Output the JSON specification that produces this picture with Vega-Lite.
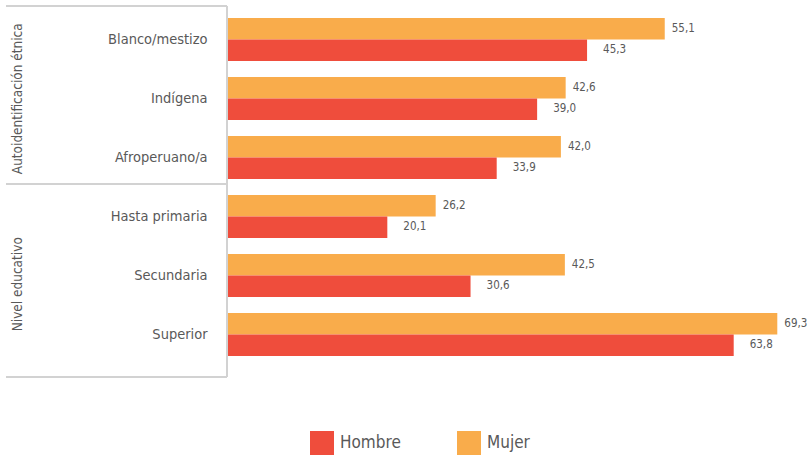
{
  "$schema": "https://vega.github.io/schema/vega-lite/v6.json",
  "padding": {"top": 5, "left": 5, "right": 0, "bottom": 0},
  "background": "white",
  "config": {
    "view": {"stroke": null},
    "font": "DejaVu Sans Condensed, Roboto Condensed, Roboto, sans-serif",
    "locale": {"number": {"decimal": ",", "thousands": ".", "grouping": [3], "currency": ["", " €"]}}
  },
  "data": {
    "values": [
      {"grupo": "Autoidentificación étnica", "categoria": "Blanco/mestizo", "sexo": "Mujer", "valor": 55.1},
      {"grupo": "Autoidentificación étnica", "categoria": "Blanco/mestizo", "sexo": "Hombre", "valor": 45.3},
      {"grupo": "Autoidentificación étnica", "categoria": "Indígena", "sexo": "Mujer", "valor": 42.6},
      {"grupo": "Autoidentificación étnica", "categoria": "Indígena", "sexo": "Hombre", "valor": 39.0},
      {"grupo": "Autoidentificación étnica", "categoria": "Afroperuano/a", "sexo": "Mujer", "valor": 42.0},
      {"grupo": "Autoidentificación étnica", "categoria": "Afroperuano/a", "sexo": "Hombre", "valor": 33.9},
      {"grupo": "Nivel educativo", "categoria": "Hasta primaria", "sexo": "Mujer", "valor": 26.2},
      {"grupo": "Nivel educativo", "categoria": "Hasta primaria", "sexo": "Hombre", "valor": 20.1},
      {"grupo": "Nivel educativo", "categoria": "Secundaria", "sexo": "Mujer", "valor": 42.5},
      {"grupo": "Nivel educativo", "categoria": "Secundaria", "sexo": "Hombre", "valor": 30.6},
      {"grupo": "Nivel educativo", "categoria": "Superior", "sexo": "Mujer", "valor": 69.3},
      {"grupo": "Nivel educativo", "categoria": "Superior", "sexo": "Hombre", "valor": 63.8}
    ]
  },
  "spacing": 0,
  "hconcat": [
    {
      "width": 221,
      "height": 371,
      "resolve": {"scale": {"y": "independent"}},
      "layer": [
        {
          "transform": [{"filter": "datum.sexo === 'Mujer'"}],
          "encoding": {
            "y": {"field": "categoria", "type": "nominal", "sort": ["Blanco/mestizo", "Indígena", "Afroperuano/a", "Hasta primaria", "Secundaria", "Superior"], "scale": {"paddingInner": 0.2712, "paddingOuter": 0.2796, "align": 0.364}, "axis": null}
          },
          "layer": [
            {
              "mark": {"type": "text", "align": "right", "baseline": "middle", "fontSize": 14.5, "color": "#595959"},
              "encoding": {
                "x": {"datum": 0.912, "type": "quantitative", "scale": {"domain": [0, 1]}, "axis": null},
                "text": {"field": "categoria"}
              }
            },
            {
              "transform": [{"filter": "datum.categoria === 'Hasta primaria'"}],
              "mark": {"type": "rule", "color": "#d2d2d2", "strokeWidth": 2},
              "encoding": {
                "y": {"field": "categoria", "type": "nominal", "bandPosition": -0.256, "sort": ["Blanco/mestizo", "Indígena", "Afroperuano/a", "Hasta primaria", "Secundaria", "Superior"], "axis": null}
              }
            }
          ]
        },
        {
          "transform": [{"aggregate": [{"op": "count", "as": "n"}], "groupby": ["grupo"]}],
          "layer": [
            {
              "transform": [{"filter": "datum.grupo === 'Autoidentificación étnica'"}],
              "mark": {"type": "rule", "color": "#d2d2d2", "strokeWidth": 2},
              "encoding": {
                "y": {"field": "grupo", "type": "nominal", "bandPosition": 0, "sort": ["Autoidentificación étnica", "Nivel educativo"], "scale": {"domain": ["Autoidentificación étnica", "Nivel educativo"], "paddingInner": 0, "paddingOuter": 0}, "axis": null}
              }
            },
            {
              "transform": [{"filter": "datum.grupo === 'Nivel educativo'"}],
              "mark": {"type": "rule", "color": "#d2d2d2", "strokeWidth": 2},
              "encoding": {
                "y": {"field": "grupo", "type": "nominal", "bandPosition": 1, "sort": ["Autoidentificación étnica", "Nivel educativo"], "axis": null}
              }
            },
            {
              "mark": {"type": "text", "angle": 270, "align": "center", "baseline": "middle", "fontSize": 13.5, "color": "#595959"},
              "encoding": {
                "y": {"field": "grupo", "type": "nominal", "sort": ["Autoidentificación étnica", "Nivel educativo"], "axis": null},
                "x": {"datum": 0.055, "type": "quantitative"},
                "text": {"field": "grupo"}
              }
            }
          ]
        },
        {
          "transform": [{"aggregate": [{"op": "count", "as": "n"}]}],
          "mark": {"type": "rule", "color": "#d2d2d2", "strokeWidth": 2},
          "encoding": {"x": {"datum": 1, "type": "quantitative"}}
        }
      ]
    },
    {
      "width": 581,
      "height": 371,
      "encoding": {
        "y": {"field": "categoria", "type": "nominal", "sort": ["Blanco/mestizo", "Indígena", "Afroperuano/a", "Hasta primaria", "Secundaria", "Superior"], "scale": {"paddingInner": 0.2712, "paddingOuter": 0.2796, "align": 0.364}, "axis": null},
        "yOffset": {"field": "sexo", "type": "nominal", "sort": ["Mujer", "Hombre"], "scale": {"paddingInner": 0, "paddingOuter": 0}},
        "x": {"field": "valor", "type": "quantitative", "scale": {"domain": [0, 73.3], "nice": false, "zero": true}, "axis": null}
      },
      "layer": [
        {
          "mark": {"type": "bar"},
          "encoding": {
            "color": {
              "field": "sexo", "type": "nominal",
              "scale": {"domain": ["Hombre", "Mujer"], "range": ["#EF4D3C", "#F9AC4B"]},
              "legend": {"orient": "none", "legendX": 304, "legendY": 425, "title": null, "direction": "horizontal", "symbolType": "square", "symbolSize": 576, "symbolStrokeWidth": 0, "symbolOpacity": 1, "labelFontSize": 17, "labelColor": "#595959", "labelOffset": 6, "columnPadding": 56}
            }
          }
        },
        {
          "transform": [{"filter": "datum.sexo === 'Mujer'"}],
          "mark": {"type": "text", "align": "left", "baseline": "middle", "dx": 7, "fontSize": 11.5, "color": "#595959"},
          "encoding": {"text": {"field": "valor", "type": "quantitative", "format": ".1f"}}
        },
        {
          "transform": [{"filter": "datum.sexo === 'Hombre'"}],
          "mark": {"type": "text", "align": "left", "baseline": "middle", "dx": 16, "fontSize": 11.5, "color": "#595959"},
          "encoding": {"text": {"field": "valor", "type": "quantitative", "format": ".1f"}}
        }
      ]
    }
  ]
}
